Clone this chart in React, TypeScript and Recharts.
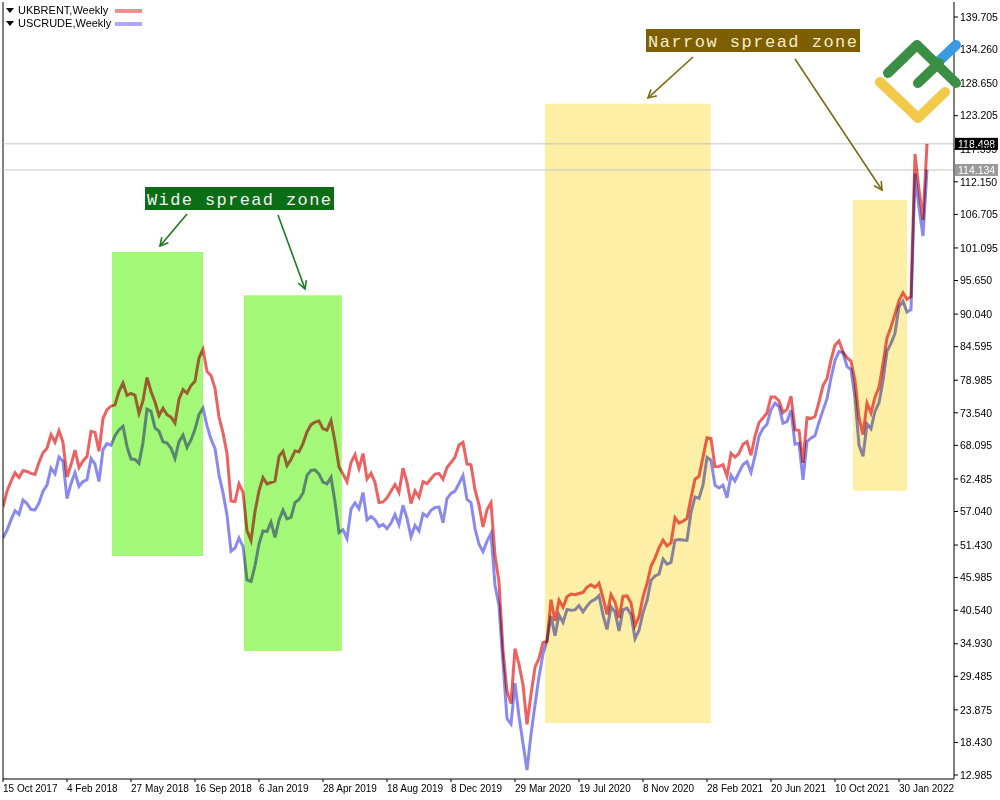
import { ComposedChart, Line, XAxis, YAxis, ReferenceArea, ReferenceLine, Legend } from 'recharts'

// weekly closes, first week 15 Oct 2017
const brent = [
  57.75, 60.44, 62.07, 63.52, 62.72, 63.86, 63.73, 63.40, 63.23, 65.25, 66.87, 67.62,
  69.87, 68.61, 70.52, 68.58, 62.79, 64.84, 67.31, 64.37, 65.49, 66.21, 70.45, 70.27, 67.11, 72.58, 74.06, 74.64,
  74.87, 77.12, 78.51, 76.44, 76.79, 76.46, 73.44, 75.55, 79.44, 77.11, 75.33, 73.07, 74.29, 73.21, 72.81, 71.83,
  75.82, 77.42, 76.83, 78.09, 78.80, 82.72, 84.16, 80.43, 79.78, 77.62, 72.83, 70.18, 66.76, 58.80, 58.71, 61.67,
  60.28, 53.82, 52.20, 57.06,
  60.48, 62.70, 61.64, 61.89, 62.10, 66.25, 67.12, 64.70, 65.74, 67.16, 67.03, 68.39, 70.34, 71.55, 71.97, 72.15,
  70.85, 70.62, 72.21, 68.69, 64.49, 63.29, 62.01, 65.20, 66.55, 64.23, 66.72, 62.47, 63.46, 61.89, 58.53, 58.64,
  59.34, 60.43, 61.54, 60.22, 64.28, 61.91, 58.37, 60.51, 59.42, 62.02, 61.69, 62.51, 63.30, 63.39, 62.43, 64.39,
  65.22, 66.14, 68.16, 68.60,
  64.98, 64.85, 60.69, 58.16, 54.47, 57.32, 58.50, 49.67, 45.27, 33.85, 26.98, 24.93, 34.11, 31.48, 28.08, 21.44,
  26.44, 30.97, 32.50, 35.13, 35.33, 42.30, 38.73, 42.19, 41.02, 42.80, 43.24, 43.14, 43.34, 43.52, 44.40, 44.80,
  44.35, 45.05, 42.66, 39.83, 43.15, 41.92, 39.27, 42.85, 42.93, 41.77, 37.94, 39.45, 42.78, 44.96, 47.88, 49.25,
  50.97, 52.26, 51.29, 51.80,
  55.99, 55.10, 55.41, 55.88, 59.34, 62.43, 62.91, 66.13, 69.36, 69.22, 64.53, 64.57, 64.86, 62.95, 66.77, 66.11,
  66.76, 68.28, 68.71, 66.44, 69.63, 71.89, 72.69, 73.51, 76.18, 76.17, 75.55, 73.59, 74.10, 76.33, 70.70, 70.59,
  65.18, 72.70, 72.61, 72.92, 75.34, 78.09, 79.28, 82.39, 84.86, 85.53, 83.72, 82.74, 82.17, 78.89, 72.72, 69.88,
  75.15, 73.52, 76.14, 77.78,
  81.75, 86.06, 87.89, 90.03, 92.3, 93.6, 92.5, 93.0, 116.8, 110.8, 105.8, 118.498,
]

const wti = [
  52.6, 53.90, 55.64, 57.17, 56.55, 58.95, 58.36, 57.36, 57.30, 58.47, 60.42, 61.44,
  64.30, 63.37, 66.14, 65.45, 59.20, 61.68, 63.55, 61.25, 62.04, 62.34, 65.88, 64.94, 62.06, 67.39, 68.38, 68.10,
  69.72, 70.70, 71.28, 67.88, 65.81, 65.74, 65.06, 68.58, 74.15, 73.80, 71.01, 70.46, 68.69, 68.49, 67.63, 65.91,
  68.72, 69.80, 67.75, 68.99, 70.78, 73.25, 74.34, 71.34, 69.12, 67.59, 63.14, 60.19, 56.46, 50.42, 50.93, 52.61,
  51.20, 45.59, 45.33, 47.96,
  51.59, 53.80, 53.69, 55.26, 52.72, 55.59, 57.26, 55.80, 56.07, 58.52, 59.04, 60.14, 63.08, 63.89, 64.00, 63.30,
  61.94, 61.66, 62.76, 58.63, 53.50, 53.99, 52.51, 57.43, 58.47, 57.51, 60.21, 55.63, 56.20, 55.66, 54.50, 54.87,
  54.17, 55.10, 56.52, 54.85, 58.09, 55.91, 52.81, 54.70, 53.78, 56.66, 56.20, 57.24, 57.72, 57.77, 55.17, 59.20,
  60.07, 60.44, 61.72, 63.05,
  59.04, 58.54, 54.19, 51.56, 50.32, 52.05, 53.38, 44.76, 41.28, 31.73, 22.43, 21.51, 28.34, 22.76, 18.27, 13.8,
  19.78, 24.74, 29.43, 33.25, 35.49, 39.55, 36.26, 39.75, 38.49, 40.65, 40.55, 40.59, 41.29, 40.27, 41.22, 42.01,
  42.34, 42.97, 39.77, 37.33, 41.11, 40.25, 37.05, 40.60, 40.88, 39.85, 35.79, 37.14, 40.13, 42.15, 45.53, 46.26,
  46.57, 49.10, 48.23, 48.52,
  52.24, 52.36, 52.27, 52.20, 56.85, 59.47, 59.24, 61.50, 66.09, 65.61, 61.42, 60.97, 61.45, 59.32, 63.13, 62.14,
  63.58, 64.90, 65.37, 63.58, 66.32, 69.62, 70.91, 71.64, 74.05, 75.16, 74.56, 71.81, 72.07, 73.95, 68.28, 68.44,
  62.32, 68.74, 69.29, 69.72, 71.97, 73.98, 75.88, 79.35, 82.28, 83.76, 83.57, 81.27, 80.79, 76.10, 68.15, 66.26,
  71.67, 70.86, 73.79, 75.21,
  78.90, 83.82, 85.14, 86.82, 91.3, 92.2, 90.4, 90.8, 113.5, 107.8, 103.1, 114.134,
]

const dateTicks = [
  '15 Oct 2017', '4 Feb 2018', '27 May 2018', '16 Sep 2018', '6 Jan 2019', '28 Apr 2019', '18 Aug 2019',
  '8 Dec 2019', '29 Mar 2020', '19 Jul 2020', '8 Nov 2020', '28 Feb 2021', '20 Jun 2021', '10 Oct 2021', '30 Jan 2022',
]

const priceTicks = [
  139.705, 134.26, 128.65, 123.205, 117.595, 112.15, 106.705, 101.095, 95.65, 90.04, 84.595, 78.985,
  73.54, 68.095, 62.485, 57.04, 51.43, 45.985, 40.54, 34.93, 29.485, 23.875, 18.43, 12.985,
]

const lastPrices = [118.498, 114.134]

// zones: [first week, last week, low, high]
const wideZones = [[27.25, 50, 49.6, 100.4], [60.25, 84.7, 33.7, 93.2]]
const narrowZones = [[135.5, 176.9, 21.7, 125.2], [212.5, 226, 60.5, 109.1]]

const months = ['Jan', 'Feb', 'Mar', 'Apr', 'May', 'Jun', 'Jul', 'Aug', 'Sep', 'Oct', 'Nov', 'Dec']
const start = Date.UTC(2017, 9, 15)
const dates = brent.map((_, i) => {
  const d = new Date(start + i * 7 * 86400000)
  return `${d.getUTCDate()} ${months[d.getUTCMonth()]} ${d.getUTCFullYear()}`
})

const data = brent.map((b, i) => ({ i, date: dates[i], brent: b, wti: wti[i] }))

const FONT = '"Liberation Sans", Arial, sans-serif'

const DateTick = (props: any) => {
  const { x, y, payload } = props
  return (
    <text x={x} y={y} dy={8} textAnchor="start" fontSize={10} fontFamily={FONT} fill="#000">
      {dates[payload.value]}
    </text>
  )
}

const PriceTag = (props: any) => {
  const { viewBox, bg, text } = props
  if (!viewBox) return null
  const x = viewBox.x + viewBox.width + 1
  const y = viewBox.y
  return (
    <g>
      <rect x={x} y={y - 6} width={43} height={12} fill={bg} />
      <text x={x + 3} y={y + 4} fontSize={10.5} fontFamily={FONT} fill="#fff">{text}</text>
    </g>
  )
}

const LegendBox = (props: any) => {
  const { payload } = props
  return (
    <div style={{ font: `11px ${FONT}`, color: '#000' }}>
      {(payload || []).map((p: any) => (
        <div key={p.value} style={{ position: 'relative', height: 13, width: 145 }}>
          <svg width={9} height={6} style={{ position: 'absolute', left: 1, top: 4 }}>
            <polygon points="0,0 8,0 4,5" fill="#000" />
          </svg>
          <span style={{ position: 'absolute', left: 13, top: 0, lineHeight: '13px', whiteSpace: 'nowrap' }}>{p.value}</span>
          <div style={{ position: 'absolute', left: 110, top: 5, width: 27, height: 4, background: p.color, opacity: 0.72 }} />
        </div>
      ))}
    </div>
  )
}

const Arrow = ({ x1, y1, x2, y2, color }: any) => {
  const a = Math.atan2(y2 - y1, x2 - x1)
  const L = 9
  const s = 0.5
  const p1 = `${x2 - L * Math.cos(a - s)},${y2 - L * Math.sin(a - s)}`
  const p2 = `${x2 - L * Math.cos(a + s)},${y2 - L * Math.sin(a + s)}`
  return (
    <g stroke={color} strokeWidth={1.6} fill="none">
      <line x1={x1} y1={y1} x2={x2} y2={y2} />
      <polyline points={`${p1} ${x2},${y2} ${p2}`} />
    </g>
  )
}

const Annotations = () => (
  <svg width={1000} height={800} style={{ position: 'absolute', left: 0, top: 0, pointerEvents: 'none' }}>
    <rect x={145} y={187} width={189} height={23} fill="#0b6e16" />
    <text x={147} y={205} textLength={184} lengthAdjust="spacing" fontFamily='"Liberation Mono", monospace' fontSize={17} fill="#f2f2f2">
      Wide spread zone
    </text>
    <Arrow x1={187} y1={214} x2={160} y2={246} color="#1f7a1f" />
    <Arrow x1={278} y1={215} x2={305} y2={289} color="#1f7a1f" />

    <rect x={646} y={29} width={214} height={23} fill="#7d5f00" />
    <text x={648} y={47} textLength={209} lengthAdjust="spacing" fontFamily='"Liberation Mono", monospace' fontSize={17} fill="#f5ecd0">
      Narrow spread zone
    </text>
    <Arrow x1={693} y1={57} x2={648} y2={98} color="#7d6a12" />
    <Arrow x1={795} y1={59} x2={882} y2={190} color="#7d6a12" />

    <g fill="none" strokeLinecap="round" strokeLinejoin="round" strokeWidth={10}>
      <path d="M938,62 L956,45" stroke="#3b9ae1" />
      <path d="M880,82 L918,118 L945,92" stroke="#f3c94a" />
      <path d="M888,73 L917,45 L956,83" stroke="#3b8f45" />
      <path d="M918,83 L939,63" stroke="#3b8f45" />
    </g>
  </svg>
)

export default function App() {
  return (
    <div style={{ position: 'relative', width: 1000, height: 800, background: '#fff' }}>
      <style>{'body{margin:0} .recharts-line-curve{mix-blend-mode:multiply}'}</style>
      <ComposedChart width={1000} height={800} data={data} margin={{ top: 2, right: 0, bottom: 0, left: 3 }}>
        <XAxis
          dataKey="i"
          type="number"
          domain={[0, 237.75]}
          allowDataOverflow
          ticks={dateTicks.map(d => dates.indexOf(d))}
          interval={0}
          height={21}
          tickSize={3}
          tickMargin={2}
          axisLine={{ stroke: '#000' }}
          tickLine={{ stroke: '#000' }}
          tick={<DateTick />}
        />
        <YAxis
          orientation="right"
          domain={[12.32, 142.21]}
          allowDataOverflow
          ticks={priceTicks}
          interval={0}
          width={46}
          tickSize={4}
          tickMargin={2}
          axisLine={{ stroke: '#000' }}
          tickLine={{ stroke: '#000' }}
          tick={{ fontSize: 10.5, fill: '#000', fontFamily: FONT }}
          tickFormatter={(v: number) => v.toFixed(3)}
        />
        <Legend
          layout="vertical"
          verticalAlign="middle"
          align="center"
          wrapperStyle={{ top: 4, left: 5, width: 150 }}
          content={<LegendBox />}
        />
        {wideZones.map((z, k) => (
          <ReferenceArea key={'w' + k} x1={z[0]} x2={z[1]} y1={z[2]} y2={z[3]} fill="#a4f878" fillOpacity={1} stroke="none" ifOverflow="visible" />
        ))}
        {narrowZones.map((z, k) => (
          <ReferenceArea key={'n' + k} x1={z[0]} x2={z[1]} y1={z[2]} y2={z[3]} fill="#fdefa6" fillOpacity={1} stroke="none" ifOverflow="visible" />
        ))}
        <ReferenceLine x={0} stroke="#000" />
        <ReferenceLine y={lastPrices[0]} stroke="#c4c4c4" label={<PriceTag bg="#000" text={lastPrices[0].toFixed(3)} />} />
        <ReferenceLine y={lastPrices[1]} stroke="#c4c4c4" label={<PriceTag bg="#9a9a9a" text={lastPrices[1].toFixed(3)} />} />
        <Line
          type="linear"
          dataKey="brent"
          name="UKBRENT,Weekly"
          stroke="#ec6262"
          strokeWidth={3}
          dot={false}
          activeDot={false}
          isAnimationActive={false}
        />
        <Line
          type="linear"
          dataKey="wti"
          name="USCRUDE,Weekly"
          stroke="#8a8aee"
          strokeWidth={3}
          dot={false}
          activeDot={false}
          isAnimationActive={false}
        />
      </ComposedChart>
      <Annotations />
    </div>
  )
}
